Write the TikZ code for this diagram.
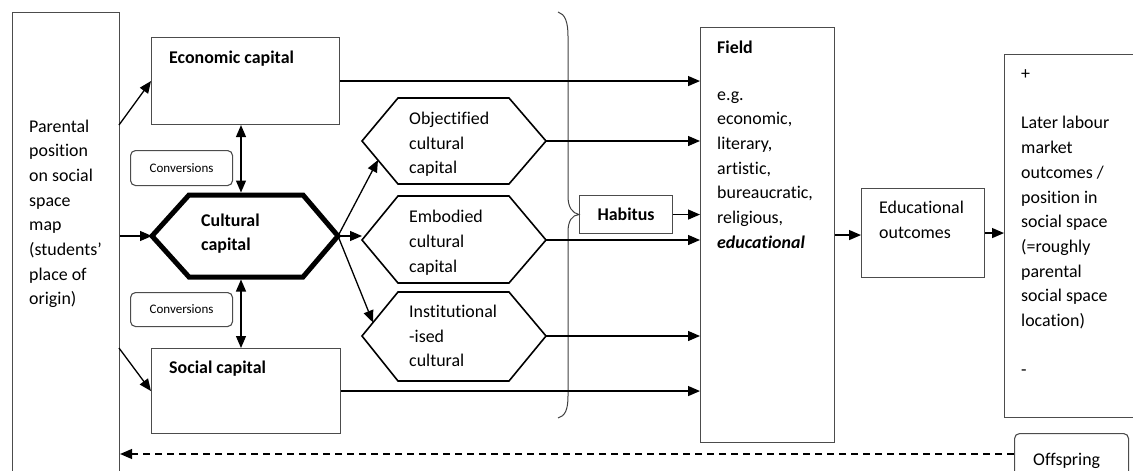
\documentclass[tikz,border=0pt]{standalone}
\usepackage{fontspec}
\setmainfont{Carlito}[Ligatures=NoCommon]
\usetikzlibrary{arrows.meta,calc}
\tikzset{
  box/.style={draw=black!70, line width=1.1pt, inner sep=0pt, anchor=north west},
  rbox/.style={box, rounded corners=5pt},
  hexa/.style={draw=black, line width=1.6pt, line join=miter},
  conn/.style={draw=black, line width=1.3pt, -{Triangle[length=12pt,width=10pt]}},
  dconn/.style={draw=black, line width=1.3pt, {Triangle[length=12pt,width=10pt]}-{Triangle[length=12pt,width=10pt]}},
  txt/.style={inner sep=0pt, anchor=base west, font=\fontsize{17.9}{24.7}\selectfont},
  btxt/.style={inner sep=0pt, anchor=base west, font=\fontsize{17.9}{24.7}\selectfont\bfseries},
  smalltxt/.style={font=\fontsize{13}{15}\selectfont},
  bracestyle/.style={draw=black!75, line width=1pt},
}
\newcommand{\textlines}[1]{\vtop{\hsize=200pt\parindent=0pt\raggedright #1}}
\begin{document}
\begin{tikzpicture}[x=1pt,y=-1pt]
\useasboundingbox (0,0) rectangle (1133,471);
\clip (0,0) rectangle (1133,471);

% parental position
\node[box, minimum width=107pt, minimum height=480pt] (parent) at (12,12) {};
\node[txt] (parentt) at (29,132) {\textlines{Parental\\position\\on social\\space\\map\\(students’\\place of\\origin)}};

% economic capital
\node[box, minimum width=188pt, minimum height=87pt] (econ) at (151,37) {};
\node[btxt] (econt) at (169,63) {Economic capital};

% conversions
\node[rbox, minimum width=102pt, minimum height=35pt, smalltxt] (conv1) at (130,150) {Conversions};
\node[rbox, minimum width=102pt, minimum height=34pt, smalltxt] (conv2) at (130,292) {Conversions};

% social capital
\node[box, minimum width=189pt, minimum height=85pt] (social) at (151,348) {};
\node[btxt] (socialt) at (169,373) {Social capital};

% cultural capital hexagon
\draw[line width=5pt, line join=miter] (189,195) -- (303,195) -- (338,236) coordinate (cR) -- (303,277) -- (189,277) -- (152,236) coordinate (cL) -- cycle;
\coordinate (cT) at (241,192.5);
\coordinate (cB) at (241,279.5);
\node[btxt] (cultt) at (201,226) {\textlines{Cultural\\capital}};

% objectified
\draw[hexa] (398,98) -- (509,98) -- (546,141) coordinate (oR) -- (509,184) -- (398,184) -- (362,141) coordinate (oL) -- cycle;
\coordinate (oA) at (378,160);
\node[txt] (objt) at (409,124.5) {\textlines{Objectified\\cultural\\capital}};

% embodied
\draw[hexa] (398,196) -- (509,196) -- (546,240) coordinate (eR) -- (509,283) -- (398,283) -- (362,240) coordinate (eL) -- cycle;
\node[txt] (embt) at (409,222.7) {\textlines{Embodied\\cultural\\capital}};

% institutionalised
\draw[hexa] (398,292) -- (509,292) -- (546,336) coordinate (iR) -- (509,381) -- (398,381) -- (362,336) coordinate (iL) -- cycle;
\coordinate (iA) at (373,322.5);
\node[txt] (inst) at (409,317.3) {\textlines{Institutional\\-ised\\cultural}};

% habitus
\node[box, minimum width=93pt, minimum height=38pt, font=\fontsize{17.9}{24.7}\selectfont\bfseries] (habitus) at (579,195) {Habitus};
\draw[bracestyle] (558,12) .. controls (565,14) and (568,22) .. (568,36) -- (568,196)
  .. controls (568,207) and (572,213) .. (habitus.west)
  .. controls (572,215) and (568,221) .. (568,232) -- (568,396)
  .. controls (568,410) and (565,416) .. (558,418);

% field
\node[box, minimum width=134pt, minimum height=415pt] (field) at (700,27) {};
\node[btxt] (fieldt) at (717,53.5) {Field};
\node[txt] (fieldl) at (717,100) {\textlines{e.g.\\economic,\\literary,\\artistic,\\bureaucratic,\\religious,\\\textbf{\textit{educational}}}};

% educational outcomes
\node[box, minimum width=123pt, minimum height=89pt] (edu) at (861,188) {};
\node[txt] (edut) at (879,213.3) {\textlines{Educational\\outcomes}};

% later outcomes
\node[box, minimum width=140pt, minimum height=363pt] (later) at (1004,54) {};
\node[txt] (latert) at (1021,79.5) {\textlines{+\\~\\Later labour\\market\\outcomes /\\position in\\social space\\(=roughly\\parental\\social space\\location)\\~\\-}};

% offspring
\node[rbox, minimum width=114pt, minimum height=50pt] (off) at (1014,433) {};
\node[txt] (offt) at (1033,465) {Offspring};

% connectors from parental position
\coordinate (p1) at (119,125);
\coordinate (p3) at (119,348);
\draw[conn] (p1) -- (econ.west);
\draw[conn] (parent.east |- cL) -- (cL);
\draw[conn] (p3) -- (social.west);

% conversions arrows
\draw[dconn] (cT |- econ.south) -- (cT);
\draw[dconn] (cB) -- (cB |- social.north);

% cultural to sub-forms
\draw[conn] (cR) -- (oA);
\draw[conn] (cR) -- (cR -| eL);
\draw[conn] (cR) -- (iA);

% into field
\draw[conn] (econ.east) -- (econ.east -| field.west);
\draw[conn] (oR) -- (oR -| field.west);
\draw[conn] (habitus.east) -- (habitus.east -| field.west);
\draw[conn] (eR) -- (eR -| field.west);
\draw[conn] (iR) -- (iR -| field.west);
\draw[conn] (social.east) -- (social.east -| field.west);

% field -> outcomes -> later
\draw[conn] (field.east) -- (field.east -| edu.west);
\draw[conn] (edu.east) -- (edu.east -| later.west);

% offspring dashed feedback
\coordinate (d1) at (1014,454);
\draw[conn, dash pattern=on 7pt off 5pt] (d1) -- (d1 -| parent.east);
\end{tikzpicture}
\end{document}
